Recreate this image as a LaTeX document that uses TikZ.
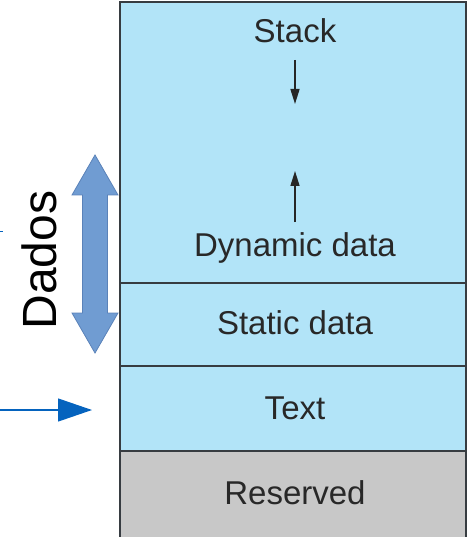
\documentclass[tikz,border=0pt]{standalone}
\usepackage{fontspec}
\setmainfont{Liberation Sans}
\usetikzlibrary{arrows.meta}
\definecolor{membg}{RGB}{178,228,248}
\definecolor{resbg}{RGB}{200,200,200}
\definecolor{edge}{RGB}{55,60,65}
\definecolor{txt}{RGB}{40,40,40}
\definecolor{dblfill}{RGB}{112,156,210}
\definecolor{dbledge}{RGB}{90,130,185}
\definecolor{ptr}{RGB}{5,99,190}
\tikzset{
  region/.style={draw=edge, line width=1.2pt},
  lbl/.style={text=txt, font=\fontsize{33}{38}\selectfont, inner sep=0pt},
  growarrow/.style={draw=black!85, line width=1.5pt, -{Triangle[length=15pt,width=9pt]}},
}
\begin{document}
\begin{tikzpicture}[x=1pt,y=-1pt]
\useasboundingbox (0,0) rectangle (471,537);
% regions
\path[region, fill=membg] (120,2) rectangle (466,283);
\path[region, fill=membg] (120,283) rectangle (466,366);
\path[region, fill=membg] (120,366) rectangle (466,451);
\path[region, fill=resbg] (120,451) rectangle (466,540);
% labels
\node[lbl] (stack) at (295,31) {Stack};
\node[lbl] (dyn) at (295,248) {Dynamic data};
\node[lbl] (static) at (295,323) {Static data};
\node[lbl] (text) at (295,408) {Text};
\node[lbl] (res) at (295,493) {Reserved};
% growth arrows
\coordinate (downA) at (295,60);
\coordinate (downB) at (295,104);
\coordinate (upA) at (295,222);
\coordinate (upB) at (295,171);
\draw[growarrow] (downA) -- (downB);
\draw[growarrow] (upA) -- (upB);
% Dados double arrow
\path[fill=dblfill, draw=dbledge, line width=0.8pt]
  (95,155) -- (118,195) -- (107.5,195) -- (107.5,313) -- (118,313) -- (95,353)
  -- (72,313) -- (82.5,313) -- (82.5,195) -- (72,195) -- cycle;
\node[text=black, font=\fontsize{48}{52}\selectfont, inner sep=0pt, rotate=90] (dados) at (39,260) {Dados};
% pointer arrow to Text
\coordinate (ptrA) at (0,410);
\coordinate (ptrB) at (92,410);
\draw[ptr, line width=1.2pt, -{Triangle[length=34pt,width=23pt]}] (ptrA) -- (ptrB);
% small stub at left
\coordinate (stubA) at (0,231);
\coordinate (stubB) at (3,231);
\draw[ptr, line width=1pt] (stubA) -- (stubB);
\end{tikzpicture}
\end{document}
